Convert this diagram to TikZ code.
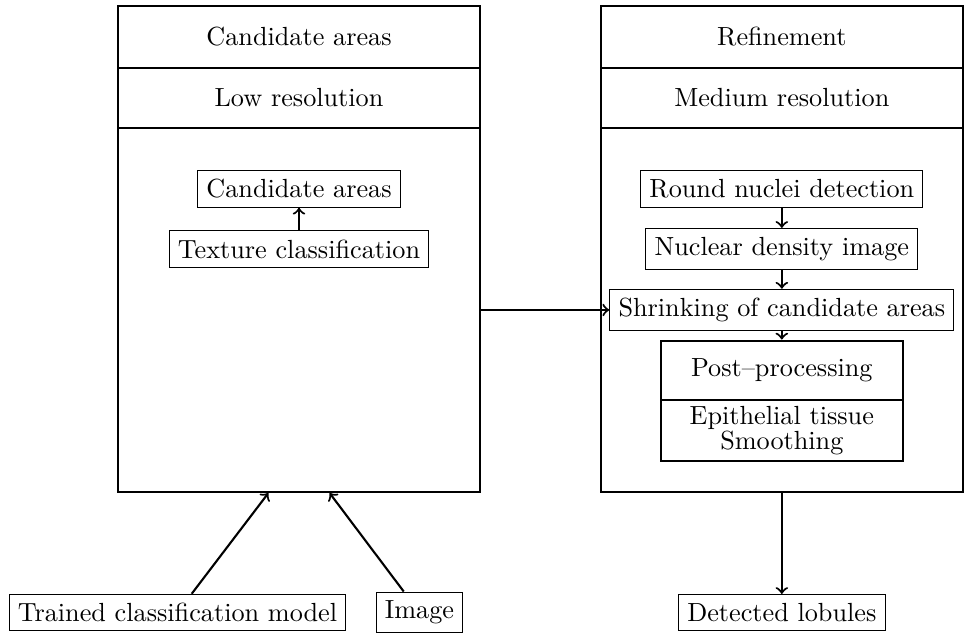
\documentclass[tikz,border=0pt]{standalone}
\usetikzlibrary{shapes,arrows,calc}

\begin{document}
\begin{tikzpicture}[auto,
            box/.style={draw,thin},
            stage/.style={draw,thick,minimum width=4.85cm},
            postbox/.style={draw,thick,minimum width=3.24cm,align=center,inner ysep=1pt}]
            \useasboundingbox (0,0) rectangle (12.922,8.512);
            % low resolution stage
            \draw (4.008,8.016) node[stage,minimum height=0.83cm] (headA) {Candidate areas};
            \draw (4.008,7.198) node[stage,minimum height=0.805cm] (resA) {Low resolution};
            \draw (4.008,4.357) node[stage,minimum height=4.879cm] (bodyA) {};
            \draw (4.008,5.979) node[box] (cand) {Candidate areas};
            \draw (4.008,5.174) node[box] (texture) {Texture classification};
            % medium resolution stage
            \draw (10.48,8.016) node[stage,minimum height=0.83cm] (headB) {Refinement};
            \draw (10.48,7.198) node[stage,minimum height=0.805cm] (resB) {Medium resolution};
            \draw (10.48,4.357) node[stage,minimum height=4.879cm] (bodyB) {};
            \draw (10.48,5.979) node[box] (nuclei) {Round nuclei detection};
            \draw (10.48,5.174) node[box] (density) {Nuclear density image};
            \draw (10.48,4.357) node[box] (shrink) {Shrinking of candidate areas};
            \draw (10.48,3.546) node[postbox,minimum height=0.80cm] (post) {Post--processing};
            \draw (10.48,2.741) node[postbox,minimum height=0.81cm] (smooth) {Epithelial tissue\\[-2.7pt]Smoothing};
            % inputs and output
            \draw (2.379,0.302) node[box] (model) {Trained classification model};
            \draw (5.623,0.302) node[box] (image) {Image};
            \draw (10.48,0.302) node[box] (lobules) {Detected lobules};
            \path[->,thick] (texture) edge (cand)
                      (nuclei) edge (density)
                      (density) edge (shrink)
                      (shrink) edge (post)
                      (bodyA) edge (shrink)
                      (model) edge ([xshift=-0.41cm]bodyA.south)
                      (image) edge ([xshift=0.41cm]bodyA.south)
                      (bodyB) edge (lobules);
        \end{tikzpicture}
\end{document}
